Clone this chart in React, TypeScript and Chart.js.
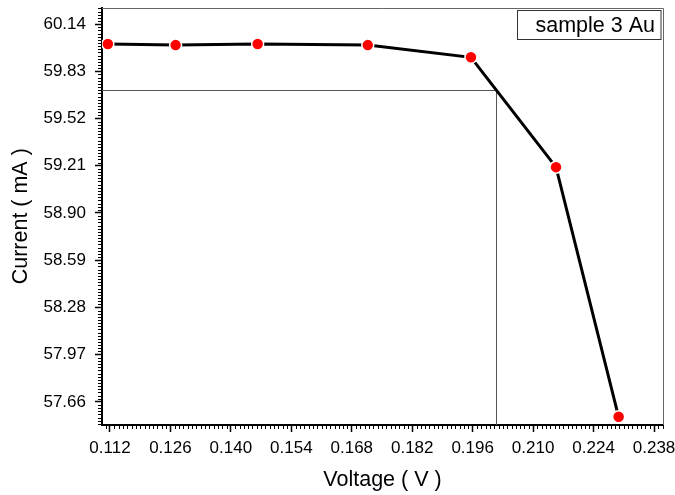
import React, { useEffect, useRef } from "react";
import { Chart, registerables } from "chart.js";

Chart.register(...registerables);

const voltage = [0.1115, 0.1272, 0.1462, 0.1717, 0.1956, 0.2153, 0.2298];
const current = [60.009, 60.002, 60.009, 60.002, 59.922, 59.201, 57.562];
const xTicks = [0.112, 0.126, 0.14, 0.154, 0.168, 0.182, 0.196, 0.21, 0.224, 0.238];
const yTicks = [57.66, 57.97, 58.28, 58.59, 58.9, 59.21, 59.52, 59.83, 60.14];
const xRange = [0.11015, 0.24008];
const yRange = [57.508, 60.249];
const xMinorStep = 0.001;
const yMinorStep = 0.31 / 15;
const markerV = 0.2013;
const markerI = 59.708;
const legendLabel = "sample 3 Au";
const xTitle = "Voltage ( V )";
const yTitle = "Current ( mA )";

const FONT = "'Liberation Sans', Arial, sans-serif";

const decor = {
  id: "decor",
  beforeDatasetsDraw(chart: any) {
    const { ctx, chartArea: a, scales } = chart;
    const x = scales.x;
    const y = scales.y;
    ctx.save();
    // crosshair
    const mx = Math.round(x.getPixelForValue(markerV)) + 0.5;
    const my = Math.round(y.getPixelForValue(markerI)) + 0.5;
    ctx.strokeStyle = "#555";
    ctx.lineWidth = 1;
    ctx.beginPath();
    ctx.moveTo(a.left, my);
    ctx.lineTo(mx, my);
    ctx.lineTo(mx, a.bottom);
    ctx.stroke();
    // frame top/right
    ctx.strokeStyle = "#666";
    ctx.beginPath();
    ctx.moveTo(a.left, Math.round(a.top) + 0.5);
    ctx.lineTo(Math.round(a.right) + 0.5, Math.round(a.top) + 0.5);
    ctx.lineTo(Math.round(a.right) + 0.5, a.bottom);
    ctx.stroke();
    // minor ticks
    ctx.strokeStyle = "#000";
    ctx.lineWidth = 1;
    ctx.beginPath();
    const k0 = Math.ceil(xRange[0] / xMinorStep - 1e-6);
    const k1 = Math.floor(xRange[1] / xMinorStep + 1e-6);
    for (let k = k0; k <= k1; k++) {
      const v = k * xMinorStep;
      if (xTicks.some((t) => Math.abs(t - v) < 1e-6)) continue;
      const px = Math.round(x.getPixelForValue(v)) + 0.5;
      ctx.moveTo(px, a.bottom);
      ctx.lineTo(px, a.bottom + 4);
    }
    const base = yTicks[0];
    const j0 = Math.ceil((yRange[0] - base) / yMinorStep - 1e-6);
    const j1 = Math.floor((yRange[1] - base) / yMinorStep + 1e-6);
    for (let j = j0; j <= j1; j++) {
      if (j % 15 === 0) continue;
      const v = base + j * yMinorStep;
      const py = Math.round(y.getPixelForValue(v)) + 0.5;
      ctx.moveTo(a.left - 4, py);
      ctx.lineTo(a.left, py);
    }
    ctx.stroke();
    ctx.restore();
  },
  afterDraw(chart: any) {
    const { ctx, chartArea: a } = chart;
    ctx.save();
    const bx = 517.5;
    const by = 10.5;
    const bw = a.right - 2 - bx;
    const bh = 29;
    ctx.strokeStyle = "#333";
    ctx.lineWidth = 1;
    ctx.fillStyle = "#fff";
    ctx.fillRect(bx, by, bw, bh);
    ctx.strokeRect(bx, by, bw, bh);
    ctx.fillStyle = "#000";
    ctx.font = `21.5px ${FONT}`;
    ctx.textAlign = "right";
    ctx.textBaseline = "middle";
    ctx.fillText(legendLabel, bx + bw - 6, by + bh / 2 + 1);
    ctx.restore();
  },
};

const zeroPad = (s: any) => {
  s.paddingTop = 0;
  s.paddingBottom = 0;
  s.paddingLeft = 0;
  s.paddingRight = 0;
};

export default function App() {
  const ref = useRef<HTMLCanvasElement>(null);
  useEffect(() => {
    if (!ref.current) return;
    const chart = new Chart(ref.current, {
      type: "scatter",
      data: {
        datasets: [
          {
            data: voltage.map((v, i) => ({ x: v, y: current[i] })),
            showLine: true,
            borderColor: "#000",
            borderWidth: 3,
            tension: 0,
            pointRadius: 6,
            pointBackgroundColor: "#ff0000",
            pointBorderColor: "#fff",
            pointBorderWidth: 1.5,
          },
        ],
      },
      plugins: [decor],
      options: {
        responsive: false,
        animation: false,
        layout: { padding: { top: 6, right: 12, left: 0, bottom: 0 } },
        plugins: { legend: { display: false }, tooltip: { enabled: false } },
        scales: {
          x: {
            type: "linear",
            min: xRange[0],
            max: xRange[1],
            afterFit: (s: any) => {
              s.height = 70;
              zeroPad(s);
            },
            afterBuildTicks: (s: any) => {
              s.ticks = xTicks.map((v) => ({ value: v }));
            },
            border: { display: true, color: "#000", width: 2 },
            grid: { drawOnChartArea: false, drawTicks: true, tickLength: 7, tickWidth: 1.5, tickColor: "#000" },
            ticks: {
              padding: 6,
              color: "#000",
              font: { family: FONT, size: 17 },
              maxRotation: 0,
              autoSkip: false,
              callback: (v: any) => Number(v).toFixed(3),
            },
            title: {
              display: true,
              text: xTitle,
              color: "#000",
              font: { family: FONT, size: 21.5 },
              padding: { top: 0, bottom: 2 },
            },
          },
          y: {
            type: "linear",
            min: yRange[0],
            max: yRange[1],
            afterFit: (s: any) => {
              s.width = 102;
              zeroPad(s);
            },
            afterBuildTicks: (s: any) => {
              s.ticks = yTicks.map((v) => ({ value: v }));
            },
            border: { display: true, color: "#000", width: 2 },
            grid: { drawOnChartArea: false, drawTicks: true, tickLength: 7, tickWidth: 1.5, tickColor: "#000" },
            ticks: {
              padding: 9,
              color: "#000",
              font: { family: FONT, size: 17 },
              autoSkip: false,
              callback: (v: any) => Number(v).toFixed(2),
            },
            title: {
              display: true,
              text: yTitle,
              color: "#000",
              font: { family: FONT, size: 21.5 },
              padding: { top: 8, bottom: 0 },
            },
          },
        },
      },
    });
    return () => chart.destroy();
  }, []);
  return (
    <div style={{ position: "fixed", left: 0, top: 0, width: 675, height: 495, background: "#fff" }}>
      <canvas ref={ref} width={675} height={495} style={{ display: "block" }} />
    </div>
  );
}
